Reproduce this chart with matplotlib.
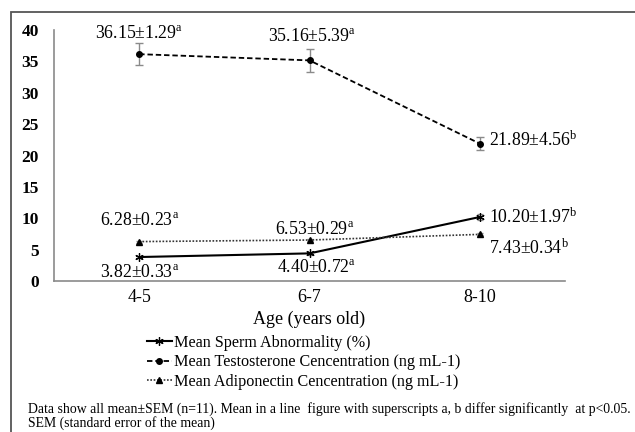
import matplotlib
matplotlib.use("Agg")
import matplotlib.pyplot as plt
from matplotlib.lines import Line2D
from matplotlib.patches import Rectangle

plt.rcParams['font.family'] = ['Liberation Serif', 'DejaVu Serif']
plt.rcParams['mathtext.fontset'] = 'custom'
plt.rcParams['mathtext.rm'] = 'Liberation Serif'
plt.rcParams['mathtext.it'] = 'Liberation Serif:italic'
plt.rcParams['mathtext.bf'] = 'Liberation Serif:bold'

# ---- data ----
categories = ["4-5", "6-7", "8-10"]
sperm = [3.82, 4.40, 10.20]
sperm_sem = [0.33, 0.72, 1.97]
sperm_sig = ["a", "a", "b"]
sperm_err_drawn = [0.2, 0.2, 0.5]

testo = [36.15, 35.16, 21.89]
testo_sem = [1.29, 5.39, 4.56]
testo_sig = ["a", "a", "b"]
testo_err_drawn = [1.8, 1.8, 1.0]

adipo = [6.28, 6.53, 7.43]
adipo_sem = [0.23, 0.29, 0.34]
adipo_sig = ["a", "a", "b"]
adipo_err_drawn = [0.15, 0.15, 0.15]

legend_labels = ["Mean Sperm Abnormality (%)",
                 "Mean Testosterone Cencentration (ng mL-1)",
                 "Mean Adiponectin Cencentration (ng mL-1)"]
yticks = [0, 5, 10, 15, 20, 25, 30, 35, 40]
xlabel = "Age (years old)"
footnote1 = ("Data show all mean\u00b1SEM (n=11). Mean in a line  figure with superscripts a, b "
             "differ significantly  at p<0.05.")
footnote2 = "SEM (standard error of the mean)"

W, H = 635, 432
fig = plt.figure(figsize=(W / 100, H / 100), dpi=100)
ax = fig.add_axes([54 / W, 1 - 281 / H, 511 / W, 251 / H])

x = list(range(len(categories)))
ecol = '#8a8a8a'

star = (6, 2, 0)
ax.errorbar(x, sperm, yerr=sperm_err_drawn, color='black', lw=1.5, ls='-',
            marker=star, ms=6, mew=0.9, ecolor=ecol, elinewidth=1, capsize=2.5, zorder=3)
ax.errorbar(x, testo, yerr=testo_err_drawn, color='black', lw=1.3, ls=(0, (3, 1.6)),
            marker='o', ms=4, ecolor=ecol, elinewidth=1, capsize=3, zorder=3)
ax.errorbar(x, adipo, yerr=adipo_err_drawn, color='#333333', lw=1.2, ls=(0, (1, 1)),
            marker='^', ms=5, mfc='black', mec='black', ecolor=ecol, elinewidth=1,
            capsize=2, zorder=3)

ax.set_xlim(-0.5, 2.5)
ax.set_ylim(0, 40)
ax.set_yticks(yticks)
ax.set_xticks(x)
ax.set_xticklabels(categories, fontsize=13)
ax.tick_params(axis='both', length=0)
ax.tick_params(axis='y', pad=11, labelsize=12.5)
ax.tick_params(axis='x', pad=6)
for t in ax.get_yticklabels():
    t.set_fontweight('bold')
for s in ['top', 'right']:
    ax.spines[s].set_visible(False)
for s in ['left', 'bottom']:
    ax.spines[s].set_color('#8a8a8a')
    ax.spines[s].set_linewidth(1.2)

def lab(v, sem, sig):
    return f"{v:.2f}\u00b1{sem:.2f}" + r"$^{\mathrm{" + sig + "}}$"

fs = 12.8
# (dx, dy, ha) offsets in pixels
offs = {
    'testo': [(0, 21, 'center'), (3, 24, 'center'), (9, 3, 'left')],
    'sperm': [(0, -15, 'center'), (7, -14, 'center'), (9, 0, 'left')],
    'adipo': [(0, 21, 'center'), (5, 11, 'center'), (9, -14, 'left')],
}
series = {'testo': (testo, testo_sem, testo_sig),
          'sperm': (sperm, sperm_sem, sperm_sig),
          'adipo': (adipo, adipo_sem, adipo_sig)}
for key, (vals, sems, sigs) in series.items():
    for i, (v, s, g) in enumerate(zip(vals, sems, sigs)):
        dx, dy, ha = offs[key][i]
        ax.annotate(lab(v, s, g), xy=(i, v), xytext=(dx, dy), textcoords='offset pixels',
                    ha=ha, va='center', fontsize=fs)

fig.text(309 / W, 1 - 319 / H, xlabel, ha='center', va='center', fontsize=13)

handles = [
    Line2D([], [], color='black', lw=1.5, ls='-', marker=star, ms=6, mew=0.9),
    Line2D([], [], color='black', lw=1.3, ls=(0, (3, 1.6)), marker='o', ms=4),
    Line2D([], [], color='#333333', lw=1.2, ls=(0, (1, 1)), marker='^', ms=5,
           mfc='black', mec='black'),
]
fig.legend(handles, legend_labels, loc='upper left',
           bbox_to_anchor=(147 / W, 1 - 335 / H), frameon=False, fontsize=11.6,
           handlelength=1.55, handletextpad=0.15, labelspacing=0.21,
           borderpad=0, borderaxespad=0)

fig.text(28 / W, 1 - 409 / H, footnote1, ha='left', va='center', fontsize=9.9)
fig.text(28 / W, 1 - 423 / H, footnote2, ha='left', va='center', fontsize=9.9)

fig.patches.append(Rectangle((11 / W, -0.05), 1.2, 1 - 12 / H + 0.05,
                             transform=fig.transFigure, fill=False,
                             edgecolor='#555555', lw=1.3, clip_on=False))

fig.savefig("out.png", dpi=100)
